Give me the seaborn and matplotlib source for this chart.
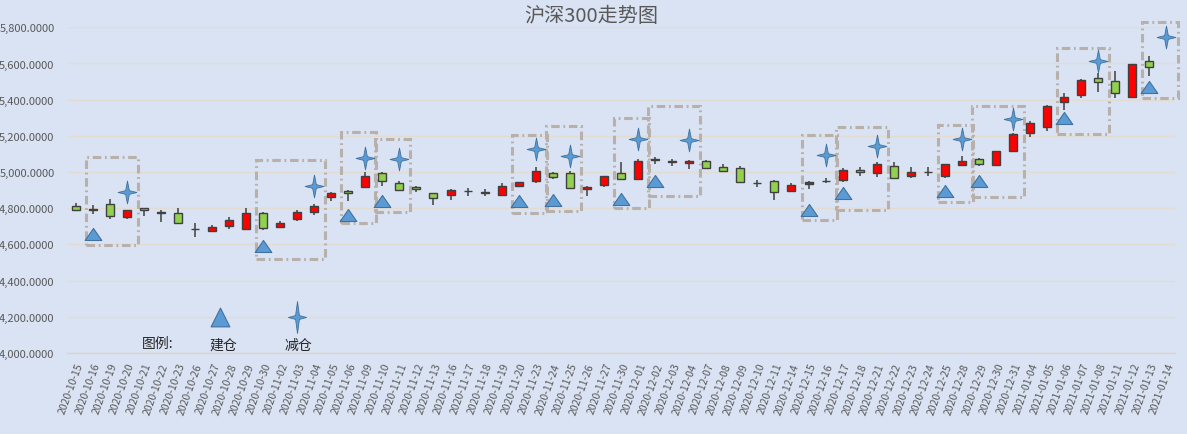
import numpy as np
import pandas as pd
from matplotlib import pyplot as plt
from matplotlib.path import Path
from matplotlib.patches import Rectangle
from matplotlib.ticker import FuncFormatter, FixedLocator
import seaborn as sns

dates = ['2020-10-15', '2020-10-16', '2020-10-19', '2020-10-20', '2020-10-21', '2020-10-22', '2020-10-23',
         '2020-10-26', '2020-10-27', '2020-10-28', '2020-10-29', '2020-10-30', '2020-11-02', '2020-11-03',
         '2020-11-04', '2020-11-05', '2020-11-06', '2020-11-09', '2020-11-10', '2020-11-11', '2020-11-12',
         '2020-11-13', '2020-11-16', '2020-11-17', '2020-11-18', '2020-11-19', '2020-11-20', '2020-11-23',
         '2020-11-24', '2020-11-25', '2020-11-26', '2020-11-27', '2020-11-30', '2020-12-01', '2020-12-02',
         '2020-12-03', '2020-12-04', '2020-12-07', '2020-12-08', '2020-12-09', '2020-12-10', '2020-12-11',
         '2020-12-14', '2020-12-15', '2020-12-16', '2020-12-17', '2020-12-18', '2020-12-21', '2020-12-22',
         '2020-12-23', '2020-12-24', '2020-12-25', '2020-12-28', '2020-12-29', '2020-12-30', '2020-12-31',
         '2021-01-04', '2021-01-05', '2021-01-06', '2021-01-07', '2021-01-08', '2021-01-11', '2021-01-12',
         '2021-01-13', '2021-01-14']

opens = [4811, 4793, 4822, 4750, 4800, 4778, 4772, 4686, 4676, 4700, 4685, 4772, 4698, 4741, 4777, 4860,
         4893, 4916, 4993, 4940, 4916, 4882, 4875, 4896, 4889, 4875, 4925, 4952, 4995, 4995, 4907, 4928,
         4993, 4962, 5068, 5063, 5048, 5063, 5026, 5021, 4939, 4952, 4897, 4934, 4951, 4958, 5013, 4995,
         5032, 4976, 5001, 4980, 5041, 5070, 5039, 5118, 5214, 5247, 5385, 5428, 5522, 5502, 5417, 5612,
         np.nan]
closes = [4793, 4795, 4756, 4789, 4790, 4776, 4717, 4684, 4694, 4735, 4772, 4693, 4717, 4777, 4811, 4882,
          4882, 4980, 4952, 4903, 4905, 4855, 4903, 4898, 4887, 4925, 4943, 5004, 4971, 4910, 4916, 4976,
          4962, 5063, 5070, 5054, 5063, 5021, 5008, 4943, 4937, 4888, 4930, 4945, 4953, 5013, 4999, 5045,
          4965, 5002, 5003, 5045, 5063, 5045, 5115, 5209, 5269, 5367, 5417, 5511, 5496, 5439, 5595, 5579,
          np.nan]
highs = [4829, 4820, 4851, 4790, 4802, 4792, 4800, 4719, 4707, 4750, 4800, 4778, 4731, 4790, 4824, 4888,
         4903, 4999, 4999, 4952, 4925, 4884, 4907, 4910, 4907, 4938, 4947, 5026, 5002, 5004, 4921, 4980,
         5054, 5070, 5085, 5072, 5069, 5065, 5045, 5032, 4958, 4955, 4940, 4952, 4965, 5021, 5026, 5054,
         5054, 5026, 5026, 5047, 5087, 5076, 5117, 5214, 5284, 5369, 5435, 5513, 5548, 5557, 5597, 5643,
         np.nan]
lows = [4790, 4768, 4743, 4741, 4756, 4722, 4715, 4640, 4667, 4685, 4682, 4682, 4695, 4731, 4765, 4838,
        4842, 4912, 4925, 4894, 4888, 4820, 4848, 4866, 4870, 4866, 4921, 4938, 4962, 4908, 4866, 4916,
        4960, 4958, 5045, 5032, 5017, 5017, 4999, 4941, 4916, 4847, 4888, 4906, 4940, 4947, 4976, 4971,
        4962, 4965, 4976, 4969, 5039, 5032, 5035, 5116, 5192, 5229, 5343, 5411, 5441, 5411, 5415, 5533,
        np.nan]

buy_dates = ['2020-10-16', '2020-10-30', '2020-11-06', '2020-11-10', '2020-11-20', '2020-11-24', '2020-11-30',
             '2020-12-02', '2020-12-15', '2020-12-17', '2020-12-25', '2020-12-29', '2021-01-06', '2021-01-13']
buy_values = [4658, 4590, 4765, 4838, 4838, 4847, 4851, 4952, 4792, 4883, 4897, 4952, 5297, 5472]

sell_dates = ['2020-10-20', '2020-11-04', '2020-11-09', '2020-11-11', '2020-11-23', '2020-11-25', '2020-12-01',
              '2020-12-04', '2020-12-16', '2020-12-21', '2020-12-28', '2020-12-31', '2021-01-08', '2021-01-14']
sell_values = [4892, 4925, 5076, 5072, 5128, 5091, 5183, 5177, 5096, 5146, 5183, 5293, 5616, 5745]

box_low = [4597, 4519, 4718, 4778, 4773, 4785, 4800, 4866, 4735, 4790, 4833, 4861, 5210, 5409]
box_high = [5085, 5066, 5220, 5183, 5206, 5256, 5297, 5367, 5206, 5251, 5262, 5367, 5686, 5828]

BG = '#dae3f3'
UP = '#ff0000'
DOWN = '#92d050'
EDGE = '#404040'
MARK = '#5b9bd5'
MARK_EDGE = '#41719c'


def star_marker(arm, inner=0.16):
    verts = [(0, 1), (inner, inner), (arm, 0), (inner, -inner), (0, -1),
             (-inner, -inner), (-arm, 0), (-inner, inner), (0, 1)]
    return Path(verts, closed=True)


def tri_marker(half_h):
    return Path([(-1, -half_h), (1, -half_h), (0, half_h), (-1, -half_h)], closed=True)


def main():
    sns.set_theme(style='white')
    plt.rcParams['font.family'] = ['Noto Sans CJK SC', 'DejaVu Sans']
    plt.rcParams['axes.unicode_minus'] = False

    df = pd.DataFrame({'date': dates, 'open': opens, 'close': closes, 'high': highs, 'low': lows})
    df['x'] = np.arange(len(df))
    df = df.dropna()
    up = df.close >= df.open

    fig = plt.figure(figsize=(11.87, 4.35), dpi=100, facecolor=BG)
    ax = fig.add_axes([67 / 1187, 81 / 435, 1108 / 1187, 325.7 / 435])
    ax.set_facecolor(BG)

    ax.vlines(df.x, df.low, df.high, color=EDGE, lw=1.1, zorder=3)
    bottom = df[['open', 'close']].min(axis=1)
    height = (df.close - df.open).abs().clip(lower=0.5)
    ax.bar(df.x, height, bottom=bottom, width=0.47,
           color=np.where(up, UP, DOWN), edgecolor=EDGE, linewidth=1.0, zorder=4)

    # dashed boxes around each buy/sell pair
    bx = [dates.index(d) for d in buy_dates]
    sx = [dates.index(d) for d in sell_dates]
    for b, s, lo, hi in zip(bx, sx, box_low, box_high):
        ax.add_patch(Rectangle((b - 0.41, lo), s - b + 1.06, hi - lo, fill=False,
                               edgecolor='#b8b1ab', lw=2.2, linestyle=(0, (2.8, 1.2, 0.6, 1.2)),
                               clip_on=False, zorder=2))

    ax.plot(bx, buy_values, ls='none', marker=tri_marker(0.72), ms=12,
            mfc=MARK, mec=MARK_EDGE, mew=0.8, zorder=5, clip_on=False)
    ax.plot(sx, sell_values, ls='none', marker=star_marker(0.82), ms=16.5,
            mfc=MARK, mec=MARK_EDGE, mew=0.6, zorder=5, clip_on=False)

    # legend drawn inside the plot
    ax.plot([8.5], [4200], ls='none', marker=tri_marker(1.0), ms=13.5,
            mfc=MARK, mec=MARK_EDGE, mew=0.8, zorder=5)
    ax.plot([13.0], [4200], ls='none', marker=star_marker(0.57, 0.12), ms=23,
            mfc=MARK, mec=MARK_EDGE, mew=0.6, zorder=5)
    ax.text(4.84, 4058, '图例:', ha='center', va='center', fontsize=10, color='#262626')
    ax.text(8.65, 4044, '建仓', ha='center', va='center', fontsize=10, color='#262626')
    ax.text(13.1, 4044, '减仓', ha='center', va='center', fontsize=10, color='#262626')

    ax.set_xlim(-0.5, len(dates) - 0.5)
    ax.set_ylim(4000, 5800)
    ax.yaxis.set_major_locator(FixedLocator(np.arange(4000, 5801, 200)))
    ax.yaxis.set_major_formatter(FuncFormatter(lambda v, p: f'{v:,.4f}'))
    ax.grid(axis='y', color='#e3dcd2', lw=1.0, zorder=0)
    ax.grid(axis='x', visible=False)
    ax.tick_params(axis='y', length=0, pad=9, labelsize=8, labelcolor='#595959')

    ax.set_xticks(np.arange(len(dates)))
    ax.set_xticklabels(dates, rotation=70, ha='right', rotation_mode='anchor', fontsize=7.5, color='#595959')
    ax.set_xticks(np.arange(-0.5, len(dates)), minor=True)
    ax.tick_params(axis='x', which='major', length=0, pad=6)
    ax.tick_params(axis='x', which='minor', length=3.5, width=1, color='#d9d4cc', direction='out')

    for side in ['top', 'right', 'left']:
        ax.spines[side].set_visible(False)
    ax.spines['bottom'].set_color('#d9d4cc')
    ax.spines['bottom'].set_linewidth(1.0)

    fig.text(591 / 1187, 1 - 16 / 435, '沪深300走势图', ha='center', va='center',
             fontsize=14.5, color='#595959')

    fig.savefig('out.png', dpi=100, facecolor=BG)


if __name__ == '__main__':
    main()
